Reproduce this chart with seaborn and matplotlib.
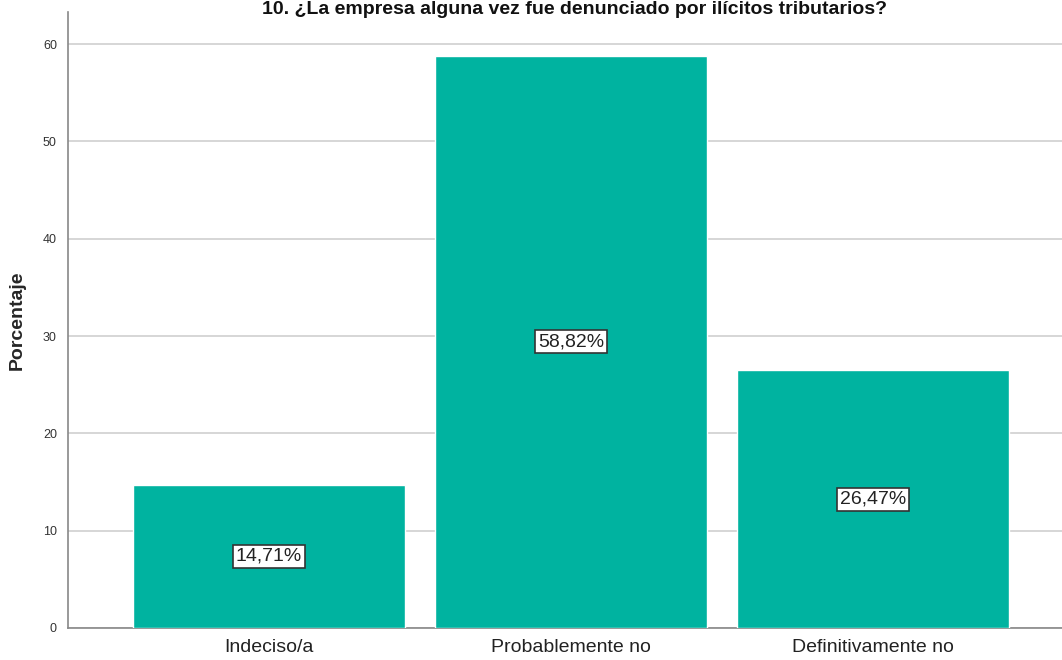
import matplotlib
matplotlib.use("Agg")
import matplotlib.pyplot as plt
import seaborn as sns
import pandas as pd

categorias = ["Indeciso/a", "Probablemente no", "Definitivamente no"]
porcentajes = [14.71, 58.82, 26.47]
titulo = "10. ¿La empresa alguna vez fue denunciado por ilícitos tributarios?"

sns.set_style("white")
plt.rcParams['font.family'] = ["Liberation Sans", "DejaVu Sans"]

df = pd.DataFrame({"categoria": categorias, "porcentaje": porcentajes})

fig = plt.figure(figsize=(10.62, 6.6), dpi=100)
ax = fig.add_axes([68 / 1062, 32 / 660, (1062 - 68) / 1062, (628 - 12) / 660])

sns.barplot(data=df, x="categoria", y="porcentaje", color="#00b3a0",
            saturation=1, width=0.9, ax=ax, zorder=3)

ax.set_xlim(-0.666, 2.626)
ax.set_ylim(0, 63.3)
ax.set_yticks([0, 10, 20, 30, 40, 50, 60])
ax.yaxis.grid(True, color="#d0d0d0", linewidth=1.2, zorder=0)
ax.set_axisbelow(True)
for s in ["top", "right"]:
    ax.spines[s].set_visible(False)
for s in ["left", "bottom"]:
    ax.spines[s].set_color("#888888")
    ax.spines[s].set_linewidth(1.2)

ax.tick_params(axis="y", labelsize=9, length=0, pad=8, labelcolor="#333333")
ax.tick_params(axis="x", labelsize=14, length=0, pad=8, labelcolor="#222222")

ax.set_xlabel("")
ax.set_ylabel("Porcentaje", fontsize=14, fontweight="bold", labelpad=12)

for i, v in enumerate(porcentajes):
    ax.text(i, v / 2, f"{v:.2f}%".replace(".", ","), ha="center", va="center",
            fontsize=14, color="#222222",
            bbox=dict(boxstyle="square,pad=0.15", facecolor="white",
                      edgecolor="#333333", linewidth=1.2), zorder=5)

fig.text(575 / 1062, 1.0 - 1 / 660, titulo, ha="center", va="top",
         fontsize=14, fontweight="bold", color="#111111")

fig.savefig("out.png", dpi=100)
